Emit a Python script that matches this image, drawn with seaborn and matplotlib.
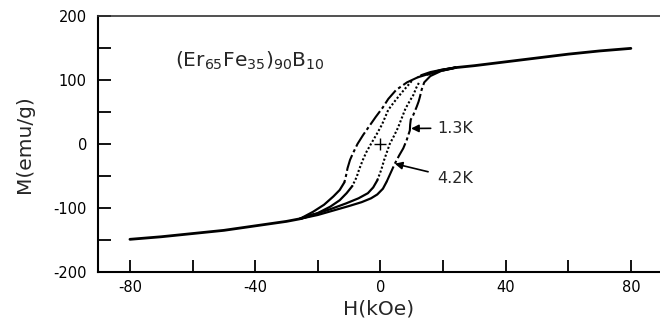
import matplotlib
matplotlib.use("Agg")
import matplotlib.pyplot as plt
import seaborn as sns
import pandas as pd

# ---- data ----
# shared saturated tails
tail_up_H = [20, 24, 30, 40, 50, 60, 70, 80]
tail_up_M = [115, 119, 122, 128, 134, 140, 145, 149]
tail_lo_H = [-80, -70, -60, -50, -40, -30, -25.7, -21]
tail_lo_M = [-149, -145, -140, -135, -128, -121, -117, -110]

# 1.3 K loop, descending branch (outer left)
a_H = [24, 20, 16, 12, 8.5, 5, 2.5, 0.8, -1.5, -3.5, -5.5, -7.3, -8.8, -9.7,
       -10.5, -11, -11.5, -13, -15, -18, -21.5, -25.7]
a_M = [119, 115, 110, 104, 96, 84, 70, 57, 42, 28, 14, 0, -15, -25,
       -38, -50, -60, -72, -82, -95, -106, -117]
# 4.2 K loop, descending branch (inner left)
b_H = [24, 20, 16, 13, 10, 6.8, 4.5, 2.5, 0.5, -1.2, -3, -4.5, -5.6, -6.8,
       -7.6, -9, -10.8, -13, -16, -20, -25.7]
b_M = [119, 116, 112, 107, 98, 80, 66, 53, 30, 15, 0, -13, -25, -40,
       -52, -66, -77, -88, -98, -108, -117]
# 4.2 K loop, ascending branch (inner right)
c_H = [-25.7, -21, -16, -11, -7, -4, -2.3, -1, 0.3, 1.2, 3, 4.3, 5.6, 6.8,
       8, 9.5, 10.5, 11.5, 12.6, 15, 19, 24]
c_M = [-117, -110, -102, -93, -85, -77, -68, -57, -40, -25, 0, 12, 25, 40,
       55, 68, 76, 88, 98, 108, 115, 119]
# 1.3 K loop, ascending branch (outer right, with jumps)
d_H = [-25.7, -20, -15, -10, -6, -3, -1, 0.8, 2, 3.3, 4.6, 6, 7.3, 8.4,
       9.4, 9.5, 9.7, 10.5, 11.6, 12.2, 12.6, 13.2, 14, 16, 19.5, 24]
d_M = [-117, -111, -104, -97, -91, -85, -79, -70, -59, -45, -31, -18, -7, 6,
       21, 30, 38, 45, 58, 66, 73, 85, 96, 106, 114, 119]

x_ticks = [-80, -60, -40, -20, 0, 20, 40, 60, 80]
x_tick_labels = ['-80', '', '-40', '', '0', '', '40', '', '80']
y_ticks = [-200, -150, -100, -50, 0, 50, 100, 150, 200]
y_tick_labels = ['-200', '', '-100', '', '0', '', '100', '', '200']

sns.set_theme(style="ticks")
plt.rcParams['font.family'] = ['DejaVu Sans']
plt.rcParams['mathtext.default'] = 'regular'
plt.rcParams['axes.unicode_minus'] = False

fig = plt.figure(figsize=(6.6, 3.25), dpi=100)
ax = fig.add_axes([98/660, 1 - 272/325, 1 - 98/660, (272 - 15.7)/325])

def draw(H, M, **kw):
    df = pd.DataFrame({"H": H, "M": M})
    sns.lineplot(data=df, x="H", y="M", sort=False, estimator=None,
                 color="black", ax=ax, **kw)

def draw_branch(H, M, style):
    df = pd.DataFrame({"H": H, "M": M})
    mid = df[(df.M >= -66) & (df.M <= 106)]
    low = df[df.M <= -55]
    sns.lineplot(data=mid, x="H", y="M", sort=False, estimator=None,
                 color="black", ax=ax, linewidth=1.5, linestyle=style)
    sns.lineplot(data=low, x="H", y="M", sort=False, estimator=None,
                 color="black", ax=ax, linewidth=1.6)
    top = df[df.M >= 100]
    sns.lineplot(data=top, x="H", y="M", sort=False, estimator=None,
                 color="black", ax=ax, linewidth=1.6)

draw(tail_up_H, tail_up_M, linewidth=2.0)
draw(tail_lo_H, tail_lo_M, linewidth=2.0)
draw_branch(a_H, a_M, (0, (8, 1.5, 1.5, 1.5)))
draw_branch(b_H, b_M, (0, (1, 1)))
draw_branch(c_H, c_M, (0, (1, 1)))
draw_branch(d_H, d_M, (0, (8, 1.5, 1.5, 1.5)))

ax.plot([0], [0], marker='+', color='black', markersize=8, mew=1)

ax.set_xlim(-90.2, 89.3)
ax.set_ylim(-200, 200)
ax.set_xticks(x_ticks)
ax.set_xticklabels(x_tick_labels)
ax.set_yticks(y_ticks)
ax.set_yticklabels(y_tick_labels)
ax.tick_params(direction='in', length=9, width=1.3, labelsize=10.5, colors='black')
ax.tick_params(axis='y', pad=8)
ax.tick_params(axis='x', pad=6)
ax.set_xlabel('H(kOe)', fontsize=14.5, labelpad=3)
ax.set_ylabel('M(emu/g)', fontsize=14.5, labelpad=14)
for s in ['left', 'bottom']:
    ax.spines[s].set_linewidth(1.5)
    ax.spines[s].set_color('black')
ax.spines['top'].set_linewidth(1.2)
ax.spines['top'].set_color('#333333')
ax.spines['right'].set_visible(False)

ax.text(-65.7, 120, r'$(Er_{65}Fe_{35})_{90}B_{10}$', fontsize=14.5,
        ha='left', va='baseline')

ax.annotate('1.3K', xy=(9.8, 24), xytext=(18, 24.5), fontsize=11.5,
            va='center', ha='left',
            arrowprops=dict(arrowstyle='-|>', color='black', lw=1.2,
                            mutation_scale=11, shrinkA=2, shrinkB=0))
ax.annotate('4.2K', xy=(4.6, -31), xytext=(18, -53.6), fontsize=11.5,
            va='center', ha='left',
            arrowprops=dict(arrowstyle='-|>', color='black', lw=1.2,
                            mutation_scale=11, shrinkA=4, shrinkB=0))

fig.savefig('out.png', dpi=100)
